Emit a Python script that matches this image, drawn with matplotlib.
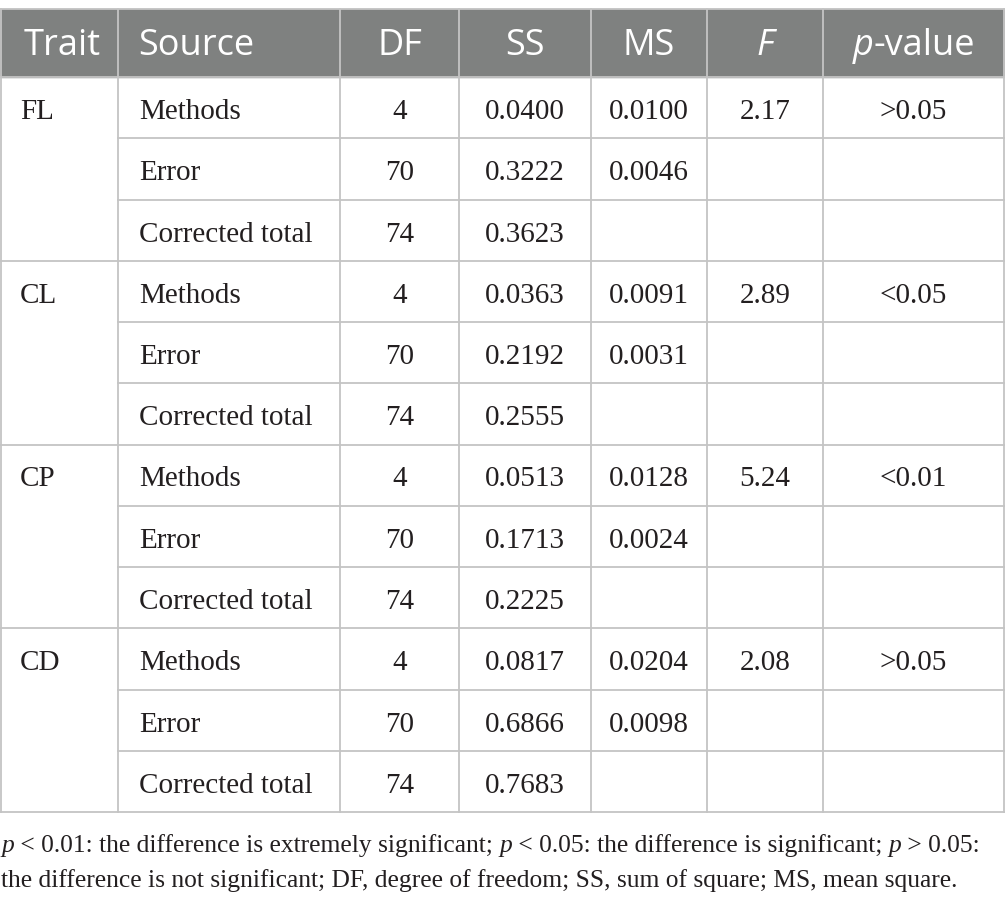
import matplotlib
matplotlib.use("Agg")
import matplotlib.pyplot as plt
from matplotlib.patches import Rectangle

# ---------------- data ----------------
headers = ["Trait", "Source", "DF", "SS", "MS", "F", "p-value"]
traits = ["FL", "CL", "CP", "CD"]
sources = ["Methods", "Error", "Corrected total"]
df_vals = [4, 70, 74]
ss_vals = [["0.0400", "0.3222", "0.3623"],
           ["0.0363", "0.2192", "0.2555"],
           ["0.0513", "0.1713", "0.2225"],
           ["0.0817", "0.6866", "0.7683"]]
ms_vals = [["0.0100", "0.0046"],
           ["0.0091", "0.0031"],
           ["0.0128", "0.0024"],
           ["0.0204", "0.0098"]]
f_vals = ["2.17", "2.89", "5.24", "2.08"]
p_vals = [">0.05", "<0.05", "<0.01", ">0.05"]
footnote1 = [("p", True), (" < 0.01: the difference is extremely significant; ", False),
             ("p", True), (" < 0.05: the difference is significant; ", False),
             ("p", True), (" > 0.05:", False)]
footnote2 = [("the difference is not significant; DF, degree of freedom; SS, sum of square; MS, mean square.", False)]

# ---------------- layout ----------------
W, H = 1005, 907
fig = plt.figure(figsize=(W / 100, H / 100), dpi=100)
ax = fig.add_axes([0, 0, 1, 1])
ax.set_xlim(0, W)
ax.set_ylim(H, 0)
ax.axis("off")

col_x = [0.5, 118, 340, 459, 591, 707, 823, 1004]
top = 8.5
head_bot = 77
row_h = 61.25
n_rows = len(traits) * len(sources)
bottom = head_bot + n_rows * row_h

grid_c = "#c4c4c4"
head_c = "#7f8180"
txt_c = "#231f20"
serif = "Liberation Serif"
sans = "Open Sans"
body_fs = 21
head_fs = 26

ax.add_patch(Rectangle((0, top), W, head_bot - top, color=head_c, zorder=0))

# grid lines
lw = 1.3
ax.plot([0, W], [top, top], color=grid_c, lw=lw)
ax.plot([0, W], [head_bot, head_bot], color=grid_c, lw=lw)
for i in range(1, n_rows + 1):
    y = head_bot + i * row_h
    x0 = 0 if i % len(sources) == 0 else col_x[1]
    ax.plot([x0, W], [y, y], color=grid_c, lw=lw)
for x in col_x:
    ax.plot([x, x], [top, bottom], color=grid_c, lw=lw)

centers = [(col_x[i] + col_x[i + 1]) / 2 for i in range(len(col_x) - 1)]

fig.canvas.draw()
renderer = fig.canvas.get_renderer()


def seg_text(x, y, segs, family, size, color, ha="left"):
    widths = []
    for s, it in segs:
        t = ax.text(0, 0, s, family=family, fontsize=size,
                    style="italic" if it else "normal")
        bb = t.get_window_extent(renderer)
        widths.append(bb.width)
        t.remove()
    total = sum(widths)
    if ha == "center":
        x = x - total / 2
    cx = x
    for (s, it), w in zip(segs, widths):
        ax.text(cx, y, s, family=family, fontsize=size, color=color,
                style="italic" if it else "normal", va="baseline", ha="left")
        cx += w


# header
hy = 55
ax.text(24, hy, headers[0], family=sans, fontsize=head_fs, color="white", va="baseline")
ax.text(138, hy, headers[1], family=sans, fontsize=head_fs, color="white", va="baseline")
for ci in (2, 3, 4):
    ax.text(centers[ci], hy, headers[ci], family=sans, fontsize=head_fs,
            color="white", va="baseline", ha="center")
ax.text(centers[5], hy, headers[5], family=sans, fontsize=head_fs, color="white",
        va="baseline", ha="center", style="italic")
seg_text(centers[6], hy, [("p", True), ("-value", False)], sans, head_fs, "white", ha="center")

# body
for g, tr in enumerate(traits):
    for r, src in enumerate(sources):
        i = g * len(sources) + r
        y = head_bot + i * row_h + 42
        if r == 0:
            ax.text(20, y, tr, family=serif, fontsize=body_fs, color=txt_c, va="baseline")
        ax.text(139, y, src, family=serif, fontsize=body_fs, color=txt_c, va="baseline")
        ax.text(centers[2], y, str(df_vals[r]), family=serif, fontsize=body_fs,
                color=txt_c, va="baseline", ha="center")
        ax.text(centers[3], y, ss_vals[g][r], family=serif, fontsize=body_fs,
                color=txt_c, va="baseline", ha="center")
        if r < 2:
            ax.text(centers[4], y, ms_vals[g][r], family=serif, fontsize=body_fs,
                    color=txt_c, va="baseline", ha="center")
        if r == 0:
            ax.text(centers[5], y, f_vals[g], family=serif, fontsize=body_fs,
                    color=txt_c, va="baseline", ha="center")
            ax.text(centers[6], y, p_vals[g], family=serif, fontsize=body_fs,
                    color=txt_c, va="baseline", ha="center")

# footnote
fn_fs = 18.4
seg_text(1, 852, footnote1, serif, fn_fs, txt_c)
seg_text(1, 887, footnote2, serif, fn_fs, txt_c)

fig.savefig("out.png", dpi=100)
